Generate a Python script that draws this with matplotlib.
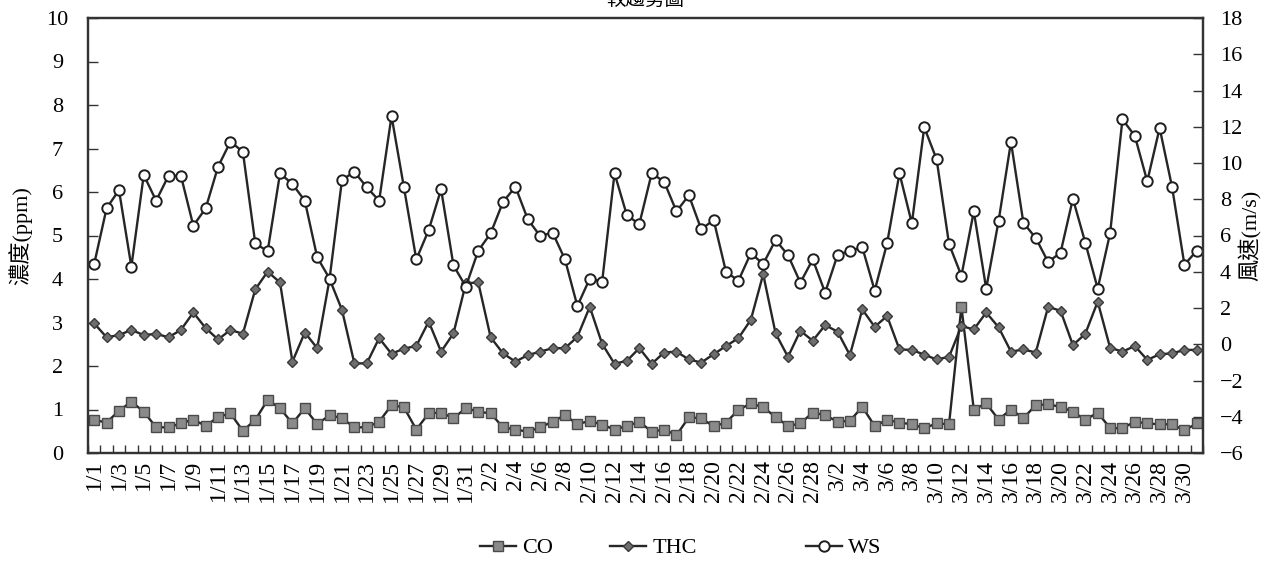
import matplotlib
matplotlib.use("Agg")
import matplotlib.pyplot as plt
import numpy as np
import pandas as pd

plt.rcParams['font.family'] = ['Liberation Serif', 'Noto Sans CJK TC', 'DejaVu Sans']

dates = [f"{d.month}/{d.day}" for d in pd.date_range("2023-01-01", "2023-03-31")]

co = [0.76, 0.70, 0.97, 1.18, 0.95, 0.59, 0.59, 0.68, 0.77, 0.62,
      0.83, 0.91, 0.51, 0.76, 1.22, 1.03, 0.68, 1.03, 0.66, 0.87,
      0.80, 0.59, 0.59, 0.72, 1.10, 1.05, 0.54, 0.91, 0.93, 0.80,
      1.03, 0.95, 0.91, 0.59, 0.54, 0.49, 0.59, 0.72, 0.87, 0.66,
      0.74, 0.65, 0.54, 0.62, 0.72, 0.49, 0.54, 0.41, 0.82, 0.80,
      0.61, 0.70, 0.99, 1.14, 1.05, 0.83, 0.62, 0.68, 0.93, 0.87,
      0.72, 0.74, 1.06, 0.62, 0.76, 0.70, 0.66, 0.57, 0.68, 0.66,
      3.36, 1.00, 1.14, 0.77, 1.00, 0.80, 1.10, 1.12, 1.06, 0.95,
      0.76, 0.93, 0.57, 0.57, 0.72, 0.68, 0.66, 0.66, 0.52, 0.68]

thc = [2.98, 2.66, 2.71, 2.83, 2.71, 2.74, 2.66, 2.83, 3.23, 2.87,
       2.61, 2.83, 2.74, 3.76, 4.17, 3.92, 2.10, 2.77, 2.41, 4.00,
       3.29, 2.06, 2.06, 2.64, 2.28, 2.40, 2.46, 3.02, 2.33, 2.75,
       3.90, 3.92, 2.66, 2.29, 2.10, 2.25, 2.33, 2.41, 2.41, 2.67,
       3.36, 2.51, 2.05, 2.12, 2.41, 2.05, 2.31, 2.33, 2.15, 2.08,
       2.27, 2.46, 2.64, 3.06, 4.11, 2.75, 2.21, 2.81, 2.58, 2.94,
       2.79, 2.25, 3.30, 2.90, 3.15, 2.38, 2.37, 2.26, 2.15, 2.21,
       2.92, 2.84, 3.23, 2.89, 2.33, 2.38, 2.31, 3.36, 3.27, 2.48,
       2.74, 3.48, 2.42, 2.33, 2.46, 2.14, 2.27, 2.29, 2.37, 2.37]

ws = [4.43, 7.50, 8.51, 4.28, 9.34, 7.92, 9.30, 9.30, 6.54, 7.50,
      9.80, 11.18, 10.62, 5.57, 5.13, 9.43, 8.84, 7.92, 4.80, 3.62,
      9.06, 9.52, 8.66, 7.92, 12.59, 8.66, 4.68, 6.30, 8.55, 4.35,
      3.18, 5.16, 6.12, 7.85, 8.69, 6.89, 5.97, 6.16, 4.68, 2.11,
      3.62, 3.45, 9.43, 7.11, 6.63, 9.43, 8.97, 7.33, 8.22, 6.34,
      6.86, 3.99, 3.51, 5.02, 4.43, 5.75, 4.92, 3.40, 4.68, 2.85,
      4.92, 5.16, 5.35, 2.96, 5.57, 9.43, 6.67, 11.97, 10.20, 5.53,
      3.78, 7.33, 3.07, 6.80, 11.16, 6.71, 5.86, 4.54, 5.05, 8.03,
      5.60, 3.07, 6.12, 12.41, 11.49, 8.99, 11.93, 8.69, 4.39, 5.16]

left_ticks = list(range(0, 11))
right_ticks = list(range(-6, 19, 2))

W, H = 1271, 571
fig = plt.figure(figsize=(W / 100, H / 100), dpi=100)
ax = fig.add_axes([88 / W, 1 - 453 / H, (1203 - 88) / W, (453 - 18) / H])
ax2 = ax.twinx()

x = np.arange(len(dates))
line_col = '#262626'
l1, = ax.plot(x, co, color=line_col, lw=1.7, marker='s', ms=6.5,
              mfc='#8a8a8a', mec='#4a4a4a', mew=1.0, label='CO')
l2, = ax.plot(x, thc, color=line_col, lw=1.7, marker='D', ms=5.5,
              mfc='#6e6e6e', mec='#3a3a3a', mew=1.0, label='THC')
l3, = ax2.plot(x, ws, color=line_col, lw=1.7, marker='o', ms=7.5,
               mfc='white', mec='#1e1e1e', mew=1.4, label='WS')

ax.set_xlim(-0.5, len(dates) - 0.5)
ax.set_ylim(0, 10)
ax2.set_ylim(-6, 18)
ax.set_yticks(left_ticks)
ax2.set_yticks(right_ticks)

ax.set_xticks(np.arange(len(dates) + 1) - 0.5, minor=False)
ax.set_xticklabels([])
ax.set_xticks(x[::2], minor=True)
ax.set_xticklabels(dates[::2], minor=True, rotation=90, fontsize=17)
ax.tick_params(axis='x', which='major', direction='in', length=6, width=1, color='#333333')
ax.tick_params(axis='x', which='minor', length=0, pad=5)
ax.tick_params(axis='y', direction='in', length=7, width=1, labelsize=16, pad=22, color='#333333')
ax2.tick_params(axis='y', direction='in', length=7, width=1, labelsize=16, pad=12, color='#333333')
for lab in ax.get_yticklabels():
    lab.set_horizontalalignment('center')

for a in (ax, ax2):
    for s in a.spines.values():
        s.set_color('#333333')
        s.set_linewidth(1.6)

ax.set_ylabel('濃度(ppm)', fontsize=16)
ax.yaxis.set_label_coords(-0.050, 0.5)
ax2.set_ylabel('風速(m/s)', fontsize=16, rotation=90)
ax2.yaxis.set_label_coords(1.032, 0.5)

fig.text(645 / W, 1.0, '較趨勢圖', ha='center', va='center', fontsize=14)

for h, lab, xs in [(l1, 'CO', 480), (l2, 'THC', 610), (l3, 'WS', 806)]:
    fig.legend([h], [lab], loc='center left', bbox_to_anchor=(xs / W, 1 - 548 / H),
               frameon=False, fontsize=16, handlelength=1.6, handletextpad=0.3,
               borderpad=0, borderaxespad=0)

fig.savefig('out.png', dpi=100)
